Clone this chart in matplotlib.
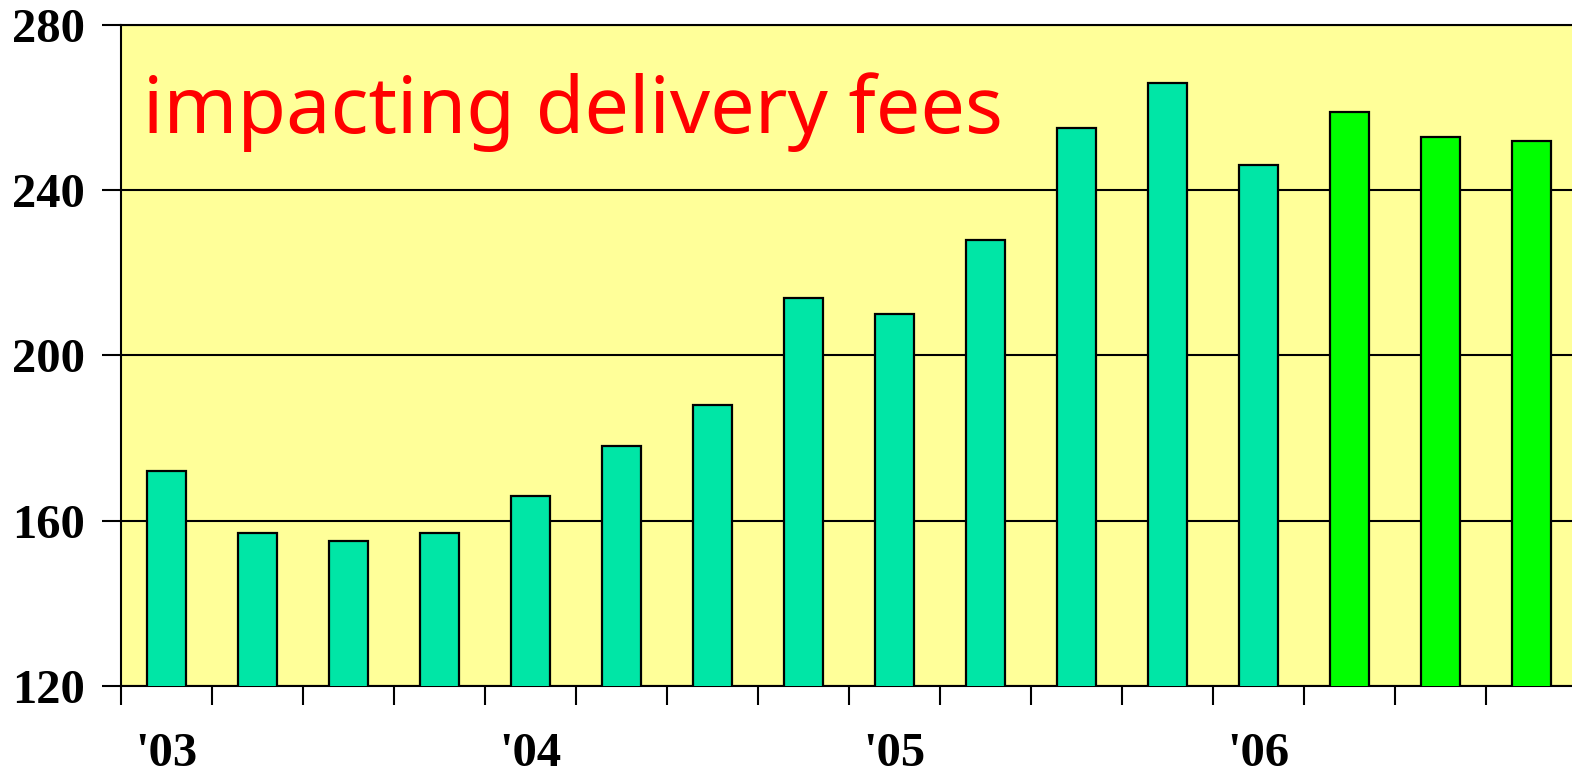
import numpy as np
import matplotlib.pyplot as plt

# quarterly values, '03 Q1 .. '06 Q4
values = [172, 157, 155, 157, 166, 178, 188, 214, 210, 228, 255, 266, 246, 259, 253, 252]
colors = ['#00E6A6'] * 13 + ['#00FF00'] * 3
year_labels = ["'03", "'04", "'05", "'06"]
year_pos = [0, 4, 8, 12]

fig = plt.figure(figsize=(15.72, 7.74), dpi=100)
ax = fig.add_axes([121 / 1572, 88 / 774, 1456 / 1572, 661 / 774])
ax.set_facecolor('#FFFF99')

x = np.arange(len(values))
ax.bar(x, values, width=0.42, color=colors, edgecolor='black', linewidth=1.6, zorder=3)

ax.set_xlim(-0.5, len(values) - 0.5)
ax.set_ylim(120, 280)
ax.set_yticks([120, 160, 200, 240, 280])
ax.yaxis.grid(True, color='black', linewidth=1.5, zorder=1)
ax.set_axisbelow(True)

ax.set_xticks(np.arange(-0.5, len(values), 1.0))
ax.set_xticklabels([])
ax.set_xticks(year_pos, minor=True)
ax.set_xticklabels(year_labels, minor=True)
ax.tick_params(axis='x', which='major', length=14, width=1.5, direction='out')
ax.tick_params(axis='x', which='minor', length=0, pad=33)
ax.tick_params(axis='y', length=14, width=1.5, direction='out', pad=12)

for lab in ax.get_yticklabels() + ax.get_xticklabels(minor=True):
    lab.set_fontfamily('Liberation Serif')
    lab.set_fontweight('bold')
    lab.set_fontsize(35)

for s in ['left', 'bottom', 'top']:
    ax.spines[s].set_linewidth(1.5)
ax.spines['right'].set_visible(False)

ax.text(22 / 1456, 0.868, 'impacting delivery fees', transform=ax.transAxes,
        color='red', fontsize=57, fontfamily='Noto Sans', va='center', ha='left')

fig.savefig('out.png', dpi=100)
